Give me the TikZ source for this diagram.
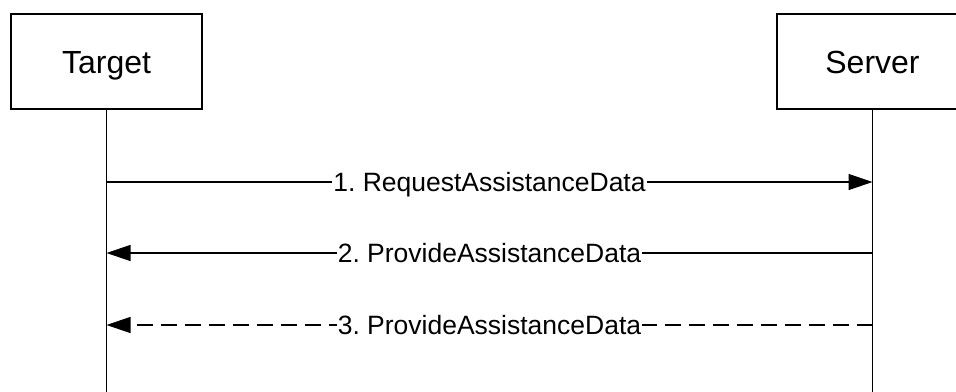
\documentclass[tikz,border=0pt]{standalone}
\usepackage{fontspec}
\setmainfont{Liberation Sans}
\usetikzlibrary{arrows.meta}
\frenchspacing

\begin{document}
\begin{tikzpicture}[x=1pt, y=-1pt,
  entity/.style={draw, line width=1.8pt, minimum width=191pt, minimum height=95pt,
    inner sep=0pt, text height=23pt, text depth=0pt, font=\fontsize{32}{38}\selectfont},
  lifeline/.style={line width=1.4pt},
  msg/.style={line width=1.3pt, -{Triangle[length=24pt,width=16pt]}},
  lbl/.style={fill=white, inner sep=1pt, text height=19pt, text depth=0pt,
    font=\fontsize{26.5}{32}\selectfont}]
\useasboundingbox (0,0) rectangle (956,391);
\clip (0,0) rectangle (956,391);

% participants
\node[entity] (target) at (106.5,61.5) {Target};
\node[entity] (server) at (872.5,61.5) {Server};
\coordinate (targetend) at (106.5,392);
\coordinate (serverend) at (872.5,392);
\draw[lifeline] (target) -- (targetend);
\draw[lifeline] (server) -- (serverend);

% message ends
\coordinate (t1) at (106.5,182);  \coordinate (s1) at (872.5,182);
\coordinate (t2) at (106.5,253);  \coordinate (s2) at (872.5,253);
\coordinate (t3) at (106.5,325);  \coordinate (s3) at (872.5,325);

% messages
\draw[msg] (t1) -- node[lbl] {1. RequestAssistanceData} (s1);
\draw[msg] (s2) -- node[lbl] {2. ProvideAssistanceData} (t2);
\draw[msg, dash pattern=on 16pt off 8pt] (s3) -- node[lbl] {3. ProvideAssistanceData} (t3);
\end{tikzpicture}
\end{document}
